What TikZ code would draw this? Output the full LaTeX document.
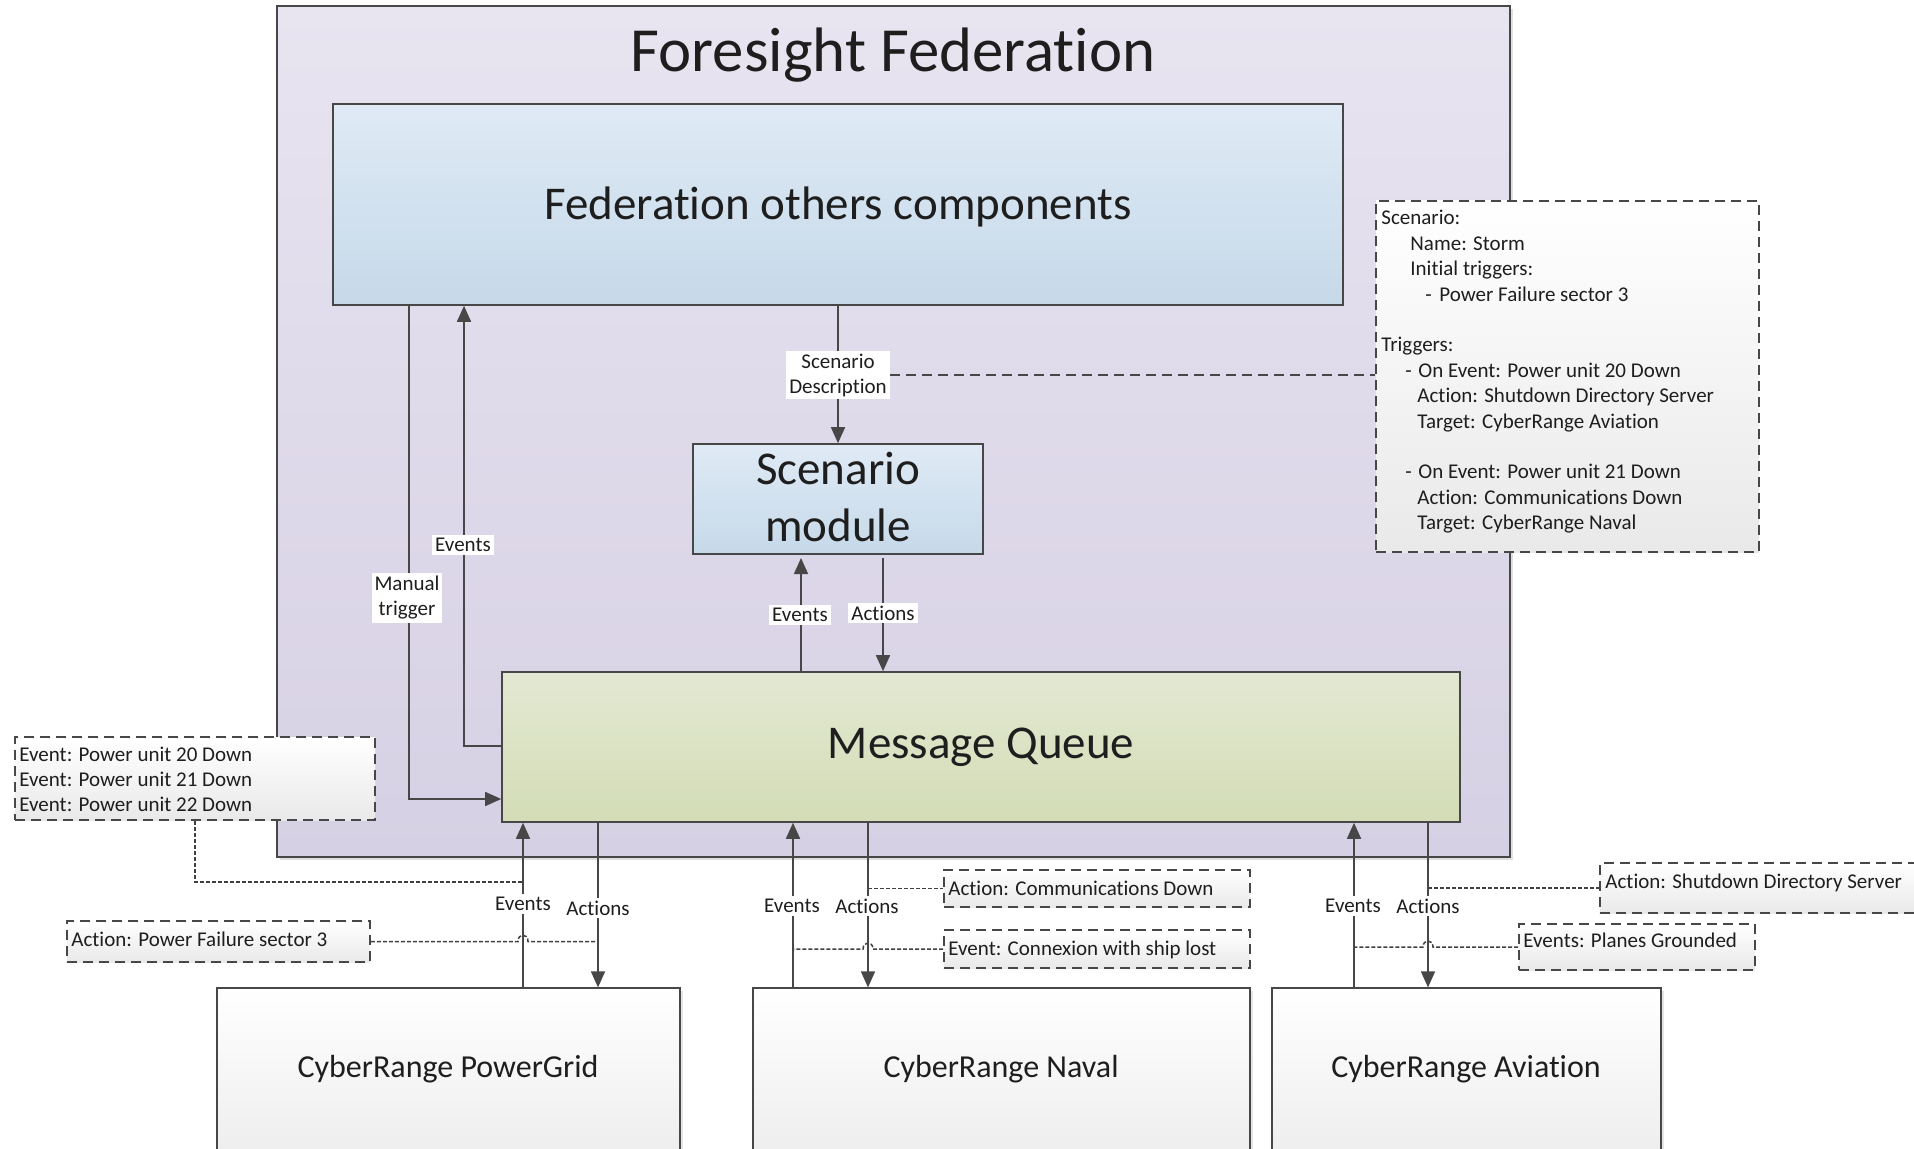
\documentclass[tikz,border=0pt]{standalone}
\usepackage{fontspec}
\setmainfont{Carlito}[Ligatures={NoCommon}]
\usetikzlibrary{arrows.meta,fit,shadows}

\definecolor{ink}{HTML}{1E1E1E}
\definecolor{linec}{HTML}{474747}
\definecolor{fedtop}{HTML}{E8E4F0}
\definecolor{fedbot}{HTML}{D6D0E4}
\definecolor{bluetop}{HTML}{DFEAF5}
\definecolor{bluebot}{HTML}{C6D9E9}
\definecolor{greentop}{HTML}{E3E9D2}
\definecolor{greenbot}{HTML}{D3DCB6}
\definecolor{notebot}{HTML}{E9E9E9}
\definecolor{rangebot}{HTML}{ECECEC}

\tikzset{
  frame/.style={draw=linec, line width=0.8pt, inner sep=0pt},
  fedframe/.style={frame, top color=fedtop, bottom color=fedbot,
    drop shadow={shadow xshift=1.5pt, shadow yshift=-1.5pt, opacity=0.25}},
  bluebox/.style={frame, top color=bluetop, bottom color=bluebot},
  greenbox/.style={frame, top color=greentop, bottom color=greenbot},
  rangebox/.style={frame, line width=0.6pt, top color=white, bottom color=rangebot,
    drop shadow={shadow xshift=1.5pt, shadow yshift=-1.5pt, opacity=0.2}},
  notebox/.style={draw=linec, line width=0.8pt, dash pattern=on 5pt off 3pt,
    inner sep=0pt, top color=white, bottom color=notebot},
  small/.style={font=\fontsize{10.5}{12.5}\selectfont, text=ink, inner sep=0pt, align=left},
  lbl/.style={font=\fontsize{10.5}{12.5}\selectfont, text=ink, fill=white, inner sep=1.5pt, align=center},
  big/.style={font=\fontsize{23.5}{28.5}\selectfont, text=ink, align=center, inner sep=0pt},
  rangetxt/.style={font=\fontsize{16}{19}\selectfont, text=ink, inner sep=0pt},
  conn/.style={draw=linec, line width=0.8pt},
  arr/.style={conn, -{Triangle[length=8pt,width=7pt]}},
  dotline/.style={draw=linec!90!black, line width=0.75pt, dash pattern=on 2pt off 1pt},
  dashline/.style={draw=linec, line width=0.8pt, dash pattern=on 5pt off 3pt},
}

\begin{document}
\begin{tikzpicture}[x=0.5pt,y=-0.5pt]
\useasboundingbox (0,0) rectangle (1914,1149);
\clip (0,0) rectangle (1914,1149);
\fill[white] (0,0) rectangle (1914,1149);

% ---------- federation frame and its modules ----------
\node[fedframe, fit={(277,6)(1510,857)}] (federation) {};
\node[font=\fontsize{31.4}{36}\selectfont, text=ink, inner sep=0pt] (fedtitle) at (893,55) {Foresight Federation};

\node[bluebox, fit={(333,104)(1343,305)}] (fed) {};
\node[big] (fedtxt) at ([yshift=-1pt]fed.center) {Federation others components};

\node[bluebox, fit={(693,444)(983,554)}] (sm) {};
\node[big] (smtxt) at ([yshift=1pt]sm.center) {Scenario\\module};

\node[greenbox, fit={(502,672)(1460,822)}] (mq) {};
\node[big] (mqtxt) at (mq.center) {Message Queue};

% ---------- cyber ranges ----------
\node[rangebox, fit={(217,988)(680,1170)}] (pg) {};
\node[rangetxt] (pgtxt) at (448,1069) {CyberRange PowerGrid};
\node[rangebox, fit={(753,988)(1250,1170)}] (nv) {};
\node[rangetxt] (nvtxt) at (1001,1069) {CyberRange Naval};
\node[rangebox, fit={(1272,988)(1661,1170)}] (av) {};
\node[rangetxt] (avtxt) at (1466,1069) {CyberRange Aviation};

% ---------- scenario description note ----------
\node[notebox, fit={(1376,201)(1759,552)}] (scen) {};
\node[small, font=\fontsize{10.5}{12.7}\selectfont, anchor=north west] (scentxt) at (1381,210) {%
Scenario:\\
\hspace*{14.5pt}Name: Storm\\
\hspace*{14.5pt}Initial triggers:\\
\hspace*{22pt}\makebox[7pt][l]{-}Power Failure sector 3\\[12.7pt]
Triggers:\\
\hspace*{12pt}\makebox[6.5pt][l]{-}On Event: Power unit 20 Down\\
\hspace*{18pt}Action: Shutdown Directory Server\\
\hspace*{18pt}Target: CyberRange Aviation\\[12.7pt]
\hspace*{12pt}\makebox[6.5pt][l]{-}On Event: Power unit 21 Down\\
\hspace*{18pt}Action: Communications Down\\
\hspace*{18pt}Target: CyberRange Naval};

% ---------- column positions ----------
\coordinate (xmt) at (409,0);
\coordinate (ymt) at (0,799);
\coordinate (xfe) at (464,0);
\coordinate (yfe) at (0,746);
\coordinate (seTip) at (801,558);
\coordinate (saTop) at (883,558);
\coordinate (pe) at (523,0);
\coordinate (pa) at (598,0);
\coordinate (ne) at (793,0);
\coordinate (na) at (868,0);
\coordinate (ae) at (1354,0);
\coordinate (aa) at (1428,0);

% ---------- notes around the ranges ----------
\node[notebox, fit={(15,737)(375,820)}] (evn) {};
\node[small, anchor=west] (evntxt) at (19,779) {Event: Power unit 20 Down\\Event: Power unit 21 Down\\Event: Power unit 22 Down};
\coordinate (xevn) at (195,0);
\coordinate (pejoin) at (523,882);
\draw[dotline] (evn.south -| xevn) |- (pejoin);

\node[notebox, fit={(67,921)(370,962)}] (pf) {};
\node[small, anchor=west] (pftxt) at (71,939) {Action: Power Failure sector 3};
\draw[dotline] (pf.east) -- (518,941.5) .. controls (518,933) and (528,933) .. (528,941.5) -- (pa |- pf.east);

\node[notebox, fit={(944,870)(1250,907)}] (cd) {};
\node[small, anchor=west] (cdtxt) at (948,888) {Action: Communications Down};
\draw[dotline] (na |- cd.west) -- (cd.west);

\node[notebox, fit={(944,930)(1250,968)}] (cl) {};
\node[small, anchor=west] (cltxt) at (948,950) {Event: Connexion with ship lost};
\draw[dotline] (cl.west) -- (873,949) .. controls (873,941) and (863,941) .. (863,949) -- (ne |- cl.west);

\node[notebox, fit={(1600,863)(1918,913)}] (sd) {};
\node[small, anchor=west] (sdtxt) at (1605,883) {Action: Shutdown Directory Server};
\draw[dotline] (aa |- sd.west) -- (sd.west);

\node[notebox, fit={(1519,924)(1755,970)}] (pgd) {};
\node[small, anchor=west] (pgdtxt) at (1523,940) {Events: Planes Grounded};
\draw[dotline] (pgd.west) -- (1433,947) .. controls (1433,939) and (1423,939) .. (1423,947) -- (ae |- pgd.west);

% ---------- connectors inside the federation ----------
\draw[arr] (fed.south -| xmt) |- (mq.west |- ymt);
\draw[arr] (mq.west |- yfe) -| (fed.south -| xfe);
\node[lbl] (mtlbl) at (407,598) {Manual\\trigger};
\node[lbl] (felbl) at (463,545) {Events};

\draw[arr] (fed.south -| sm.north) -- (sm.north);
\node[lbl] (sdlbl) at (838,375) {Scenario\\Description};
\draw[dashline] (sdlbl.east) -- (scen.west |- sdlbl.east);

\draw[arr] (mq.north -| seTip) -- (seTip);
\draw[arr] (saTop) -- (mq.north -| saTop);
\node[lbl] (selbl) at (800,615) {Events};
\node[lbl] (salbl) at (883,613) {Actions};

% ---------- connectors to the cyber ranges ----------
\draw[arr] (pg.north -| pe) -- (mq.south -| pe);
\draw[arr] (mq.south -| pa) -- (pg.north -| pa);
\node[lbl] (pelbl) at (523,904) {Events};
\node[lbl] (palbl) at (598,908) {Actions};

\draw[arr] (nv.north -| ne) -- (mq.south -| ne);
\draw[arr] (mq.south -| na) -- (nv.north -| na);
\node[lbl] (nelbl) at (792,906) {Events};
\node[lbl] (nalbl) at (867,906) {Actions};

\draw[arr] (av.north -| ae) -- (mq.south -| ae);
\draw[arr] (mq.south -| aa) -- (av.north -| aa);
\node[lbl] (aelbl) at (1353,906) {Events};
\node[lbl] (aalbl) at (1428,906) {Actions};
\end{tikzpicture}
\end{document}
